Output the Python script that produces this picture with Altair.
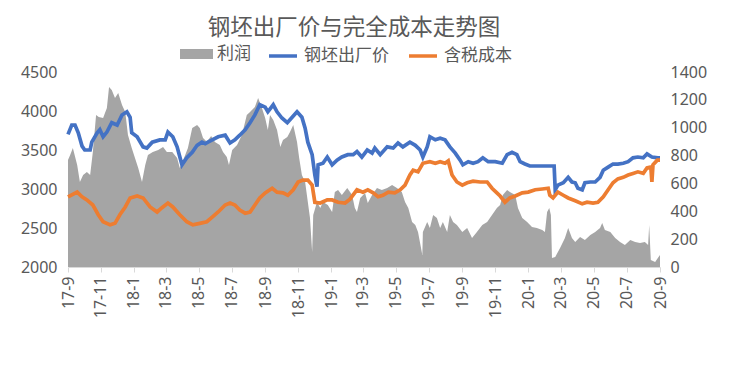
import altair as alt
import pandas as pd

# ---- data ----
price_dates = ["2017-09-01","2017-09-08","2017-09-14","2017-09-20","2017-09-27","2017-10-02","2017-10-12","2017-10-15","2017-10-25","2017-10-30",
               "2017-11-05","2017-11-12","2017-11-21","2017-12-01","2017-12-10","2017-12-19","2017-12-25","2017-12-28","2018-01-07","2018-01-18",
               "2018-01-25","2018-02-04","2018-02-18","2018-02-28","2018-03-05","2018-03-14","2018-03-22","2018-03-31","2018-04-09","2018-04-19",
               "2018-04-28","2018-05-07","2018-05-13","2018-05-18","2018-05-26","2018-06-06","2018-06-19","2018-06-28","2018-07-07","2018-07-16",
               "2018-07-26","2018-08-04","2018-08-13","2018-08-22","2018-09-01","2018-09-06","2018-09-16","2018-09-23","2018-10-02","2018-10-12",
               "2018-10-21","2018-10-30","2018-11-08","2018-11-14","2018-11-19","2018-11-27","2018-12-02","2018-12-06","2018-12-08","2018-12-17",
               "2018-12-25","2019-01-03","2019-01-12","2019-01-21","2019-02-01","2019-02-11","2019-02-18","2019-02-27","2019-03-09","2019-03-18",
               "2019-03-23","2019-04-02","2019-04-15","2019-04-26","2019-05-05","2019-05-14","2019-05-27","2019-06-06","2019-06-15","2019-06-20",
               "2019-06-28","2019-07-03","2019-07-13","2019-07-22","2019-07-31","2019-08-09","2019-08-19","2019-08-28","2019-09-02","2019-09-12",
               "2019-09-21","2019-09-30","2019-10-09","2019-10-19","2019-11-01","2019-11-14","2019-11-23","2019-12-02","2019-12-11","2019-12-17",
               "2019-12-26","2020-01-04","2020-01-23","2020-02-18","2020-02-20","2020-02-25","2020-03-06","2020-03-15","2020-03-22","2020-03-28",
               "2020-04-02","2020-04-10","2020-04-15","2020-04-25","2020-05-04","2020-05-13","2020-05-19","2020-05-28","2020-06-06","2020-06-15",
               "2020-06-25","2020-07-04","2020-07-13","2020-07-22","2020-08-01","2020-08-08","2020-08-17","2020-08-28","2020-09-01"]
price_values = [3700,3820,3820,3720,3550,3500,3500,3600,3720,3760,
                3670,3730,3850,3820,3950,3990,3920,3720,3670,3540,
                3525,3600,3630,3630,3730,3670,3540,3310,3400,3470,
                3560,3600,3580,3600,3630,3670,3690,3590,3630,3690,
                3760,3850,3950,4080,4050,3990,4080,3990,3910,3850,
                3920,3990,3920,3780,3600,3440,3180,3030,3310,3330,
                3410,3310,3370,3410,3440,3440,3480,3410,3500,3460,
                3525,3440,3540,3525,3590,3540,3600,3560,3500,3410,
                3540,3670,3630,3650,3630,3540,3460,3370,3310,3350,
                3330,3350,3400,3350,3350,3330,3440,3470,3440,3350,
                3320,3295,3295,3295,2990,3050,3080,3150,3090,3080,
                3010,2990,3080,3090,3090,3150,3240,3280,3320,3320,
                3330,3350,3400,3410,3400,3450,3410,3400,3400]

cost_dates = ["2017-09-01","2017-09-18","2017-09-27","2017-10-06","2017-10-17","2017-10-27","2017-11-05","2017-11-18","2017-11-27","2017-12-06",
              "2017-12-16","2017-12-25","2018-01-07","2018-01-18","2018-01-31","2018-02-13","2018-02-22","2018-03-05","2018-03-14","2018-03-27",
              "2018-04-09","2018-04-20","2018-05-03","2018-05-16","2018-05-26","2018-06-06","2018-06-19","2018-06-28","2018-07-07","2018-07-16",
              "2018-07-26","2018-08-04","2018-08-13","2018-08-22","2018-09-01","2018-09-14","2018-09-23","2018-10-04","2018-10-13","2018-10-23",
              "2018-11-01","2018-11-10","2018-11-19","2018-11-27","2018-12-02","2018-12-12","2018-12-25","2019-01-03","2019-01-14","2019-01-27",
              "2019-02-05","2019-02-18","2019-03-01","2019-03-10","2019-03-20","2019-03-29","2019-04-07","2019-04-17","2019-04-29","2019-05-09",
              "2019-05-18","2019-05-27","2019-06-02","2019-06-11","2019-06-20","2019-07-03","2019-07-13","2019-07-22","2019-07-31","2019-08-06",
              "2019-08-13","2019-08-22","2019-09-01","2019-09-10","2019-09-21","2019-10-04","2019-10-17","2019-10-26","2019-11-04","2019-11-10",
              "2019-11-19","2019-11-28","2019-12-08","2019-12-21","2020-01-01","2020-01-14","2020-01-27","2020-02-07","2020-02-10","2020-02-16",
              "2020-02-25","2020-03-06","2020-03-15","2020-03-28","2020-04-10","2020-04-19","2020-04-30","2020-05-09","2020-05-19","2020-05-28",
              "2020-06-06","2020-06-15","2020-06-25","2020-07-04","2020-07-13","2020-07-22","2020-08-01","2020-08-08","2020-08-14","2020-08-15",
              "2020-08-17","2020-08-19","2020-08-27","2020-09-01"]
cost_values = [2900,2960,2900,2860,2795,2670,2580,2540,2560,2670,
               2770,2885,2910,2885,2770,2705,2760,2820,2770,2670,
               2580,2540,2560,2580,2640,2705,2795,2820,2795,2730,
               2690,2705,2795,2885,2950,3010,2960,2950,2920,2990,
               3090,3115,3115,3050,2830,2820,2860,2860,2830,2820,
               2870,2990,2960,2990,2950,2900,2920,2960,2950,2990,
               3050,3180,3240,3220,3330,3350,3330,3350,3330,3360,
               3180,3090,3050,3080,3100,3090,3090,3010,2950,2910,
               2830,2885,2910,2950,2960,2990,3000,3010,2920,2885,
               2960,2920,2885,2850,2810,2830,2820,2830,2900,2990,
               3080,3130,3150,3180,3200,3220,3200,3270,3280,3280,
               3090,3310,3370,3370]

profit_dates = ["2017-09-01","2017-09-05","2017-09-10","2017-09-18","2017-09-23","2017-09-29","2017-10-06","2017-10-12","2017-10-17","2017-10-23",
                "2017-10-28","2017-11-05","2017-11-12","2017-11-16","2017-11-21","2017-11-27","2017-12-03","2017-12-10","2017-12-16","2017-12-21",
                "2017-12-28","2018-01-03","2018-01-09","2018-01-16","2018-01-22","2018-01-27","2018-02-05","2018-02-15","2018-02-24","2018-03-03",
                "2018-03-13","2018-03-22","2018-03-27","2018-04-06","2018-04-11","2018-04-19","2018-04-28","2018-05-03","2018-05-09","2018-05-16",
                "2018-05-24","2018-05-31","2018-06-09","2018-06-15","2018-06-22","2018-06-26","2018-07-02","2018-07-11","2018-07-20","2018-07-29",
                "2018-08-04","2018-08-13","2018-08-19","2018-08-26","2018-09-01","2018-09-06","2018-09-10","2018-09-16","2018-09-23","2018-09-29",
                "2018-10-04","2018-10-12","2018-10-17","2018-10-23","2018-10-30","2018-11-03","2018-11-08","2018-11-14","2018-11-19","2018-11-23",
                "2018-11-27","2018-11-29","2018-12-06","2018-12-12","2018-12-17","2018-12-26","2019-01-03","2019-01-08","2019-01-14","2019-01-21",
                "2019-01-31","2019-02-09","2019-02-14","2019-02-18","2019-02-24","2019-03-05","2019-03-10","2019-03-18","2019-03-27","2019-04-05",
                "2019-04-15","2019-04-24","2019-05-03","2019-05-12","2019-05-18","2019-05-24","2019-05-31","2019-06-06","2019-06-11","2019-06-19",
                "2019-06-20","2019-06-28","2019-07-03","2019-07-09","2019-07-16","2019-07-22","2019-07-27","2019-08-04","2019-08-09","2019-08-15",
                "2019-08-22","2019-09-01","2019-09-10","2019-09-19","2019-09-28","2019-10-08","2019-10-17","2019-10-26","2019-11-04","2019-11-10",
                "2019-11-15","2019-11-23","2019-11-28","2019-12-08","2019-12-13","2019-12-21","2019-12-30","2020-01-08","2020-01-17","2020-01-27",
                "2020-02-01","2020-02-05","2020-02-09","2020-02-12","2020-02-14","2020-02-20","2020-02-29","2020-03-09","2020-03-15","2020-03-22",
                "2020-03-28","2020-04-06","2020-04-15","2020-04-25","2020-05-04","2020-05-13","2020-05-17","2020-05-22","2020-06-01","2020-06-10",
                "2020-06-19","2020-06-28","2020-07-08","2020-07-17","2020-07-26","2020-08-04","2020-08-10","2020-08-12","2020-08-15","2020-08-23",
                "2020-08-28","2020-09-01"]
profit_values = [768,804,854,732,610,660,682,660,826,1091,
                 1077,1070,1142,1292,1271,1213,1249,1163,1113,948,
                 854,783,711,610,732,804,826,840,862,826,
                 826,783,711,804,854,998,1020,998,926,900,
                 940,898,876,826,790,732,840,876,948,1091,
                 1113,1149,1213,1142,1070,984,1091,1055,984,862,
                 912,933,969,1020,898,783,660,610,467,352,
                 108,373,467,424,467,445,395,539,553,517,
                 567,517,424,395,495,531,460,517,567,553,
                 567,589,567,539,467,424,323,302,251,86,
                 251,323,280,373,352,280,323,251,373,323,
                 302,251,280,208,251,302,323,373,424,445,
                 517,553,539,517,424,352,323,287,280,266,
                 251,395,424,373,65,72,136,208,280,208,
                 180,215,194,230,251,280,316,266,251,208,
                 180,158,194,180,172,180,158,302,50,36,
                 65,86]

series_names = ["利润", "钢坯出厂价", "含税成本"]
series_colors = ["#a5a5a5", "#4472c4", "#ed7d31"]
tick_months = [(2017, 9), (2017, 11), (2018, 1), (2018, 3), (2018, 5), (2018, 7), (2018, 9), (2018, 11),
               (2019, 1), (2019, 3), (2019, 5), (2019, 7), (2019, 9), (2019, 11), (2020, 1), (2020, 3),
               (2020, 5), (2020, 7), (2020, 9)]
left_ticks = [2000, 2500, 3000, 3500, 4000, 4500]
right_ticks = [0, 200, 400, 600, 800, 1000, 1200, 1400]

df_profit = pd.DataFrame({"date": profit_dates, "value": profit_values, "series": series_names[0]})
df_price = pd.DataFrame({"date": price_dates, "value": price_values, "series": series_names[1]})
df_cost = pd.DataFrame({"date": cost_dates, "value": cost_values, "series": series_names[2]})

TXT = "#595959"
CJK = "Noto Sans CJK SC"

x_enc = alt.X(
    "date:T",
    scale=alt.Scale(type="utc", domain=[alt.DateTime(year=2017, month=9, date=1, utc=True),
                                        alt.DateTime(year=2020, month=9, date=1, utc=True)]),
    axis=alt.Axis(
        values=[alt.DateTime(year=y, month=m, date=1, utc=True) for y, m in tick_months],
        format="%y-%-m", labelAngle=270, labelFontSize=16, labelColor=TXT, labelFont="Noto Sans",
        domainColor="#d9d9d9", tickColor="#d9d9d9", tickSize=5, labelPadding=4, grid=False, title=None,
        labelOverlap=False,
    ),
)

area = alt.Chart(df_profit).mark_area(opacity=1, interpolate="linear").encode(
    x=x_enc,
    y=alt.Y("value:Q", scale=alt.Scale(domain=[0, 1400], nice=False, zero=True),
            axis=alt.Axis(orient="right", values=right_ticks, format="d", grid=False, domain=False, ticks=False,
                          labelPadding=10, labelFontSize=16, labelColor=TXT, labelFont="Noto Sans", title=None)),
    fill=alt.Fill("series:N", scale=alt.Scale(domain=[series_names[0]], range=[series_colors[0]]),
                  legend=alt.Legend(title=None, orient="none", legendX=112, legendY=-34.5, direction="horizontal",
                                    symbolType="M-1,-0.3H1V0.3H-1Z", symbolSize=1089, symbolStrokeWidth=0,
                                    symbolOpacity=1, labelFontSize=17, labelFont=CJK, labelColor=TXT,
                                    labelOffset=4)),
)

stroke_scale = alt.Scale(domain=series_names[1:], range=series_colors[1:])
stroke_legend = alt.Legend(title=None, orient="none", legendX=199, legendY=-32, direction="horizontal",
                           symbolType="stroke", symbolSize=784, symbolStrokeWidth=3.5, columnPadding=13,
                           labelFontSize=17, labelFont=CJK, labelColor=TXT, labelOffset=5)
y_left = alt.Y("value:Q", scale=alt.Scale(domain=[2000, 4500], nice=False, zero=False),
               axis=alt.Axis(orient="left", values=left_ticks, format="d", grid=False, domain=False, ticks=False,
                             labelPadding=11, labelFontSize=16, labelColor=TXT, labelFont="Noto Sans", title=None))

blue = alt.Chart(df_price).mark_line(strokeWidth=3.7).encode(
    x=x_enc, y=y_left, stroke=alt.Stroke("series:N", scale=stroke_scale, legend=stroke_legend))
orange = alt.Chart(df_cost).mark_line(strokeWidth=3.7).encode(
    x=x_enc, y=y_left, stroke=alt.Stroke("series:N", scale=stroke_scale, legend=stroke_legend))

chart = alt.layer(area, alt.layer(blue, orange)).resolve_scale(y="independent").properties(
    width=592, height=195,
    padding={"left": 60, "top": 64, "right": 62, "bottom": 90},
    autosize=alt.AutoSizeParams(type="none"),
    title=alt.TitleParams(text="钢坯出厂价与完全成本走势图", fontSize=22.5, font=CJK, color=TXT,
                          fontWeight="normal", anchor="middle", frame="group", dx=-10, dy=2, offset=0),
).configure_view(strokeWidth=0)

chart.save("out.html", embed_options={"renderer": "svg", "actions": False})
